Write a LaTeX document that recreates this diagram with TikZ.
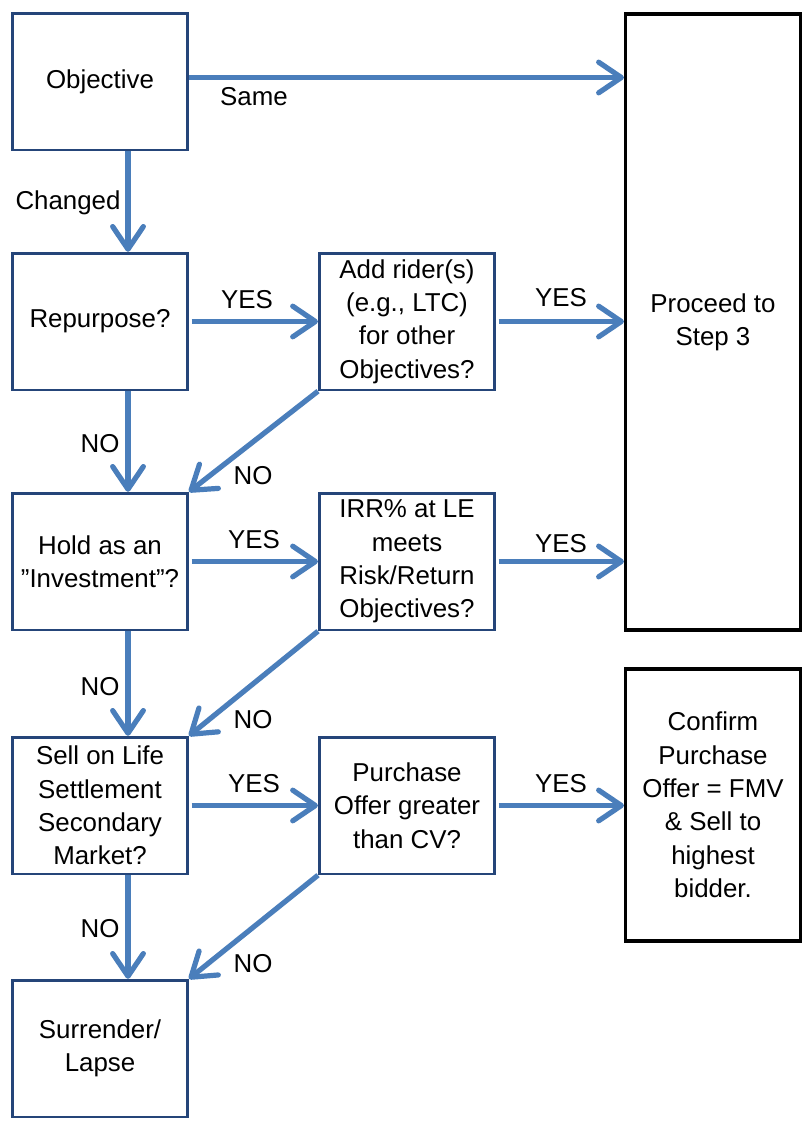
\documentclass[tikz,border=0pt]{standalone}
\usepackage{fontspec}
\setmainfont{Liberation Sans}
\usepackage{tikz}
\usepackage{xcolor}
\usetikzlibrary{
    arrows.meta
}
\definecolor{arrowblue}{RGB}{74,126,187}
\definecolor{boxblue}{RGB}{37,69,121}
\newcommand{\chartfont}{\fontsize{19.4}{25}\selectfont}
\tikzset{
    box/.style={draw=boxblue, line width=2pt, fill=white, minimum width=131.5pt, minimum height=102.5pt, align=center, inner sep=0pt, font=\chartfont},
    bigbox/.style={draw=black, line width=2.6pt, fill=white, minimum width=131pt, align=center, inner sep=0pt, font=\chartfont},
    flow/.style={draw=arrowblue, line width=3.9pt, -{Straight Barb[round, length=17pt, width=23pt]}},
    lbl/.style={inner sep=0pt, font=\chartfont}
}

\begin{document}
\begin{tikzpicture}[x=0.75pt, y=-0.75pt]
            \useasboundingbox (0,0) rectangle (806,1121);

            \node[box] (objective) at (100, 81.5) {Objective};
            \node[box] (repurpose) at (100, 321.5) {Repurpose?};
            \node[box] (hold) at (100, 561.5) {Hold as an\\\symbol{34}Investment\symbol{34}?};
            \node[box] (sell) at (100, 805.5) {Sell on Life\\Settlement\\Secondary\\Market?};
            \node[box] (surrender) at (100, 1048.5) {Surrender/\\Lapse};

            \node[box] (rider) at (407, 321.5) {Add rider(s)\\(e.g., LTC)\\for other\\Objectives?};
            \node[box] (irr) at (407, 561.5) {IRR\% at LE\\meets\\Risk/Return\\Objectives?};
            \node[box] (purchase) at (407, 805.5) {Purchase\\Offer greater\\than CV?};

            \node[bigbox, minimum height=462pt] (proceed) at (713, 322) {Proceed to\\Step 3};
            \node[bigbox, minimum height=204pt] (confirm) at (713, 805) {Confirm\\Purchase\\Offer = FMV\\\& Sell to\\highest\\bidder.};

            \draw[flow] ([yshift=3pt]objective.east) -- ([yshift=3pt]objective.east -| proceed.west);
            \draw[flow] ([xshift=21pt]objective.south) -- ([xshift=21pt]repurpose.north);

            \draw[flow] ([xshift=2pt]repurpose.east) -- (rider.west);
            \draw[flow] ([xshift=2pt]rider.east) -- (rider.east -| proceed.west);
            \draw[flow] (rider.south west) -- (hold.north east);
            \draw[flow] ([xshift=21pt]repurpose.south) -- ([xshift=21pt]hold.north);

            \draw[flow] ([xshift=2pt]hold.east) -- (irr.west);
            \draw[flow] ([xshift=2pt]irr.east) -- (irr.east -| proceed.west);
            \draw[flow] (irr.south west) -- (sell.north east);
            \draw[flow] ([xshift=21pt]hold.south) -- ([xshift=21pt]sell.north);

            \draw[flow] ([xshift=2pt]sell.east) -- (purchase.west);
            \draw[flow] ([xshift=2pt]purchase.east) -- (confirm.west |- purchase.east);
            \draw[flow] (purchase.south west) -- (surrender.north east);
            \draw[flow] ([xshift=21pt]sell.south) -- ([xshift=21pt]surrender.north);

            \node[lbl] (same) at (254, 97) {Same};
            \node[lbl] (changed) at (68, 203) {Changed};
            \node[lbl] (yes1) at (247, 300) {YES};
            \node[lbl] (yes2) at (561, 298) {YES};
            \node[lbl] (no1) at (100, 444) {NO};
            \node[lbl] (no2) at (253, 476) {NO};
            \node[lbl] (yes3) at (254, 540) {YES};
            \node[lbl] (yes4) at (561, 544) {YES};
            \node[lbl] (no3) at (100, 687) {NO};
            \node[lbl] (no4) at (253, 720) {NO};
            \node[lbl] (yes5) at (254, 784) {YES};
            \node[lbl] (yes6) at (561, 784) {YES};
            \node[lbl] (no5) at (100, 929) {NO};
            \node[lbl] (no6) at (253, 964) {NO};
\end{tikzpicture}
\end{document}
